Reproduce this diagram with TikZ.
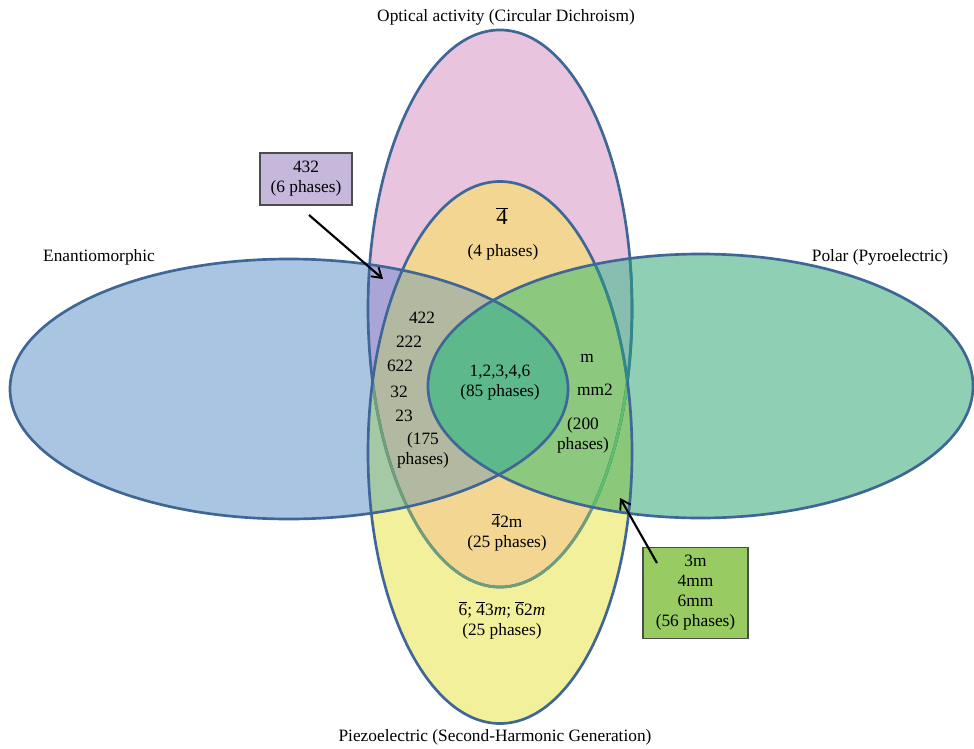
\documentclass[tikz,border=0pt]{standalone}
\usepackage{fontspec}
\setmainfont{Liberation Serif}
\usetikzlibrary{arrows.meta}
\definecolor{cblue}{RGB}{170,197,225}
\definecolor{cpink}{RGB}{232,196,222}
\definecolor{cyellow}{RGB}{242,240,155}
\definecolor{cgreen}{RGB}{143,207,180}
\definecolor{corange}{RGB}{243,214,145}
\definecolor{cpurple}{RGB}{170,165,215}
\definecolor{cpale}{RGB}{165,200,165}
\definecolor{cgray}{RGB}{178,185,160}
\definecolor{cteal}{RGB}{135,190,175}
\definecolor{cgy}{RGB}{140,200,122}
\definecolor{cgpy}{RGB}{140,200,125}
\definecolor{ccenter}{RGB}{93,185,140}
\definecolor{cedge}{RGB}{62,102,150}
\definecolor{cedgeteal}{RGB}{46,138,138}
\definecolor{cedgegy}{RGB}{110,158,122}
\definecolor{cedgelg}{RGB}{95,190,105}
\definecolor{cbox1}{RGB}{198,184,219}
\definecolor{cbox2}{RGB}{152,204,98}
\begin{document}
\begin{tikzpicture}[x=0.75pt,y=-0.75pt,
  lbl/.style={font=\fontsize{13}{15}\selectfont, align=center, inner sep=0pt},
  edge/.style={draw=cedge, line width=2pt},
  infobox/.style={draw=black!70, line width=0.9pt, font=\fontsize{13}{15}\selectfont, align=center, inner sep=0pt},
  pointer/.style={black, line width=1.6pt, -{Straight Barb[length=7pt,width=9pt,line width=1.4pt]}}]
\useasboundingbox (0,0) rectangle (974,749);
\def\Eb{(289,389) ellipse [x radius=209.25pt, y radius=97.5pt]}
\def\Ep{(500,308.5) ellipse [x radius=99pt, y radius=208.9pt]}
\def\Ey{(500,452.5) ellipse [x radius=99pt, y radius=203.25pt]}
\def\Eg{(700.5,386) ellipse [x radius=204.4pt, y radius=99pt]}
% base fills
\fill[cblue] \Eb;
\fill[cpink] \Ep;
\fill[cyellow] \Ey;
\fill[cgreen] \Eg;
% pairs and triples
\begin{scope}\clip \Ep; \fill[corange] \Ey; \end{scope}
\begin{scope}\clip \Eb; \fill[cpurple] \Ep; \fill[cpale] \Ey; \clip \Ep; \fill[cgray] \Ey; \end{scope}
\begin{scope}\clip \Eg; \fill[cteal] \Ep; \fill[cgy] \Ey; \clip \Ep; \fill[cgpy] \Ey; \end{scope}
\begin{scope}\clip \Eb; \fill[ccenter] \Eg; \end{scope}
% outlines
\draw[edge] \Ep;
\begin{scope}\clip \Ey; \draw[edge, draw=cedgegy] \Ep; \end{scope}
\begin{scope}\clip \Eg; \draw[edge, draw=cedgeteal] \Ep; \end{scope}
\begin{scope}\clip \Eg; \clip \Ey; \draw[edge, draw=cedgelg] \Ep; \end{scope}
\draw[edge] \Eb;
\draw[edge] \Ey;
\begin{scope}\clip \Eg; \clip \Ep; \draw[edge, draw=cedgeteal] \Ey; \end{scope}
\draw[edge] \Eg;
% set titles
\node[lbl] (tOpt) at (506,17) {Optical activity (Circular Dichroism)};
\node[lbl] (tEna) at (99,257) {Enantiomorphic};
\node[lbl] (tPol) at (880,257) {Polar (Pyroelectric)};
\node[lbl] (tPie) at (495,737) {Piezoelectric (Second-Harmonic Generation)};
% region labels
\node[lbl, font=\fontsize{17}{19}\selectfont] (l4bar) at (502,216) {\(\overline{\mbox{4}}\)};
\node[lbl] (l4ph) at (503,252) {(4 phases)};
\node[lbl] (l422) at (422,318) {422};
\node[lbl] (l222) at (409,342) {222};
\node[lbl] (l622) at (400,366) {622};
\node[lbl] (l32) at (399,392) {32};
\node[lbl] (l23) at (404,416) {23};
\node[lbl] (l175) at (423,450) {(175\\phases)};
\node[lbl] (lcen) at (500,383) {1,2,3,4,6\\(85 phases)};
\node[lbl] (lm) at (587,358) {m};
\node[lbl] (lmm2) at (595,390) {mm2};
\node[lbl] (l200) at (583,435) {(200\\phases)};
\node[lbl] (l42m) at (507,532) {\(\overline{\mbox{4}}\)2m\\(25 phases)};
\node[lbl] (l6b) at (502,620) {\(\overline{\mbox{6}}\); \(\overline{\mbox{4}}\)3\textit{m}; \(\overline{\mbox{6}}\)2\textit{m}\\(25 phases)};
% boxes
\node[infobox, fill=cbox1, minimum width=69pt, minimum height=39pt] (b432) at (306,179) {432\\(6 phases)};
\node[infobox, fill=cbox2, minimum width=78.75pt, minimum height=68pt] (b3m) at (695.5,593) {3m\\4mm\\6mm\\(56 phases)};
\coordinate (p1s) at (309,215);
\coordinate (p1e) at (383,279);
\coordinate (p2s) at (657,563);
\coordinate (p2e) at (620,498);
\draw[pointer] (p1s) -- (p1e);
\draw[pointer] (p2s) -- (p2e);
\end{tikzpicture}
\end{document}
